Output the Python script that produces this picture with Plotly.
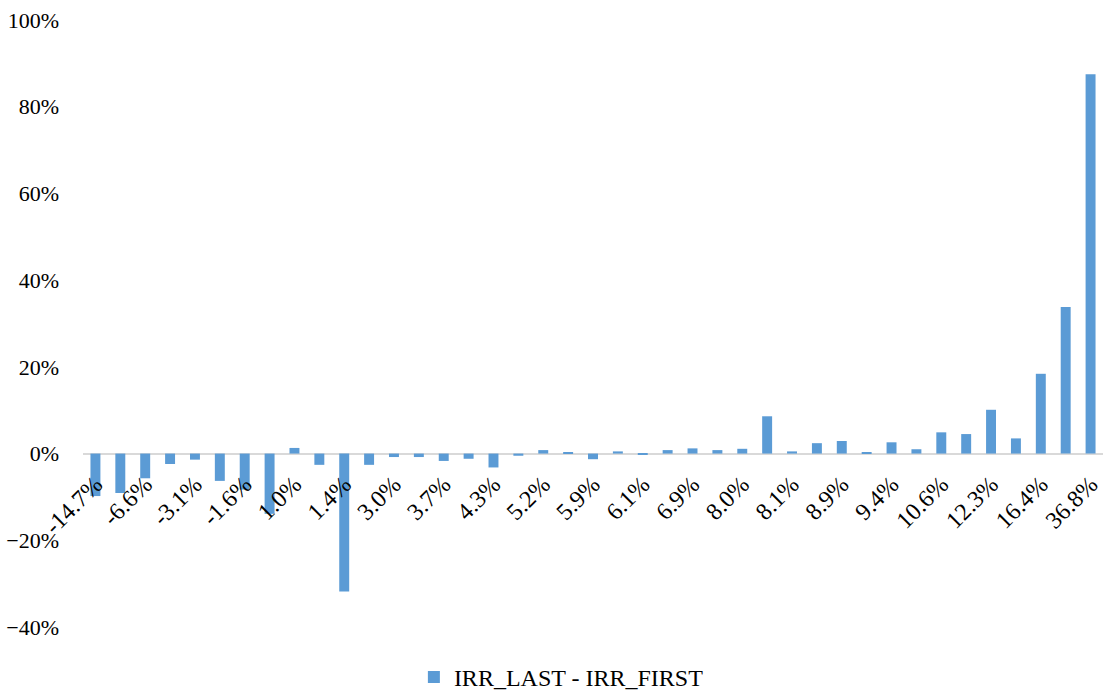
import plotly.graph_objects as go

tick_labels = ["-14.7%", "-6.6%", "-3.1%", "-1.6%", "1.0%", "1.4%", "3.0%", "3.7%",
               "4.3%", "5.2%", "5.9%", "6.1%", "6.9%", "8.0%", "8.1%", "8.9%",
               "9.4%", "10.6%", "12.3%", "16.4%", "36.8%"]

# IRR_LAST - IRR_FIRST, in percent, one per bar (41 bars)
diff_values = [-9.8, -9.1, -5.7, -2.4, -1.4, -6.3, -8.3, -13.9, 1.3, -2.6,
               -31.8, -2.6, -0.8, -0.8, -1.7, -1.2, -3.2, -0.5, 0.8, 0.3,
               -1.3, 0.5, -0.3, 0.8, 1.2, 0.8, 1.1, 8.6, 0.5, 2.4,
               2.9, 0.3, 2.6, 1.0, 4.9, 4.5, 10.1, 3.5, 18.4, 33.8,
               87.5]

series_name = "IRR_LAST - IRR_FIRST"

x_idx = list(range(len(diff_values)))
y_frac = [v / 100 for v in diff_values]

font_family = "Liberation Serif"

fig = go.Figure()
fig.add_trace(go.Bar(
    x=x_idx, y=y_frac, name=series_name,
    marker=dict(color="#5B9BD5", line=dict(width=0)),
    showlegend=True,
))

ymin, ymax = -0.4, 1.0
fig.update_layout(
    width=1103, height=690,
    paper_bgcolor="white", plot_bgcolor="white",
    margin=dict(l=83, r=0, t=20, b=63, autoexpand=False),
    bargap=0.6,
    font=dict(family=font_family, size=22, color="black"),
    showlegend=True,
    legend=dict(orientation="h", x=0.469, xanchor="center", y=-0.083, yanchor="middle",
                font=dict(size=24, family=font_family, color="black")),
    xaxis=dict(
        range=[-0.5, 40.5],
        tickmode="array",
        tickvals=x_idx[::2],
        ticktext=tick_labels,
        tickangle=-45,
        showgrid=False, zeroline=False, showline=False, ticks="",
        anchor="free", position=(0 - ymin) / (ymax - ymin),
        automargin=False,
        ticklabelstandoff=11,
        ticklabeloverflow="allow",
        tickfont=dict(size=24, family=font_family, color="black"),
    ),
    yaxis=dict(
        range=[ymin, ymax],
        tickmode="array",
        tickvals=[-0.4, -0.2, 0, 0.2, 0.4, 0.6, 0.8, 1.0],
        tickformat=".0%",
        showgrid=False, showline=False, ticks="",
        zeroline=True, zerolinecolor="#D9D9D9", zerolinewidth=2,
        ticklabelstandoff=23,
        ticklabeloverflow="allow",
        automargin=False,
        tickfont=dict(size=22, family=font_family, color="black"),
    ),
)

fig.write_html("out.html",
               config={"displayModeBar": False},
               post_script="document.body.style.margin='0';document.body.style.overflow='hidden';")
